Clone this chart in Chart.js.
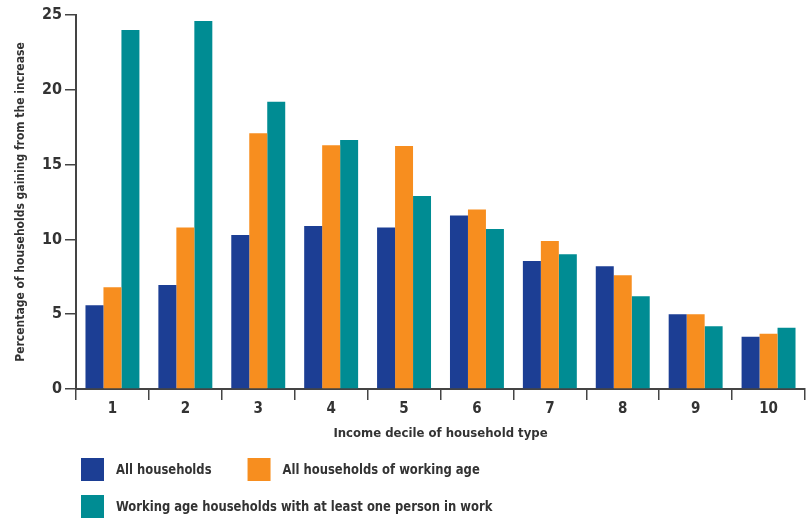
<!DOCTYPE html>
<html>
<head>
<meta charset="utf-8">
<script src="https://cdn.jsdelivr.net/npm/chart.js@4"></script>
<style>
  html, body {margin: 0; padding: 0; background: #fff;}
  #wrap {width: 806px; height: 519px;}
</style>
</head>
<body>
<div id="wrap"><canvas id="chart" width="806" height="519"></canvas></div>
<script>
// Data
const deciles = ["1", "2", "3", "4", "5", "6", "7", "8", "9", "10"];
const allHouseholds = [5.6, 6.95, 10.3, 10.9, 10.8, 11.6, 8.55, 8.2, 5.0, 3.5];
const workingAge = [6.8, 10.8, 17.1, 16.3, 16.25, 12.0, 9.9, 7.6, 5.0, 3.7];
const inWork = [24.0, 24.6, 19.2, 16.65, 12.9, 10.7, 9.0, 6.2, 4.2, 4.1];
const seriesNames = [
  "All households",
  "All households of working age",
  "Working age households with at least one person in work"
];
const yTicks = [0, 5, 10, 15, 20, 25];

const FONT = "'Liberation Sans Narrow', 'DejaVu Sans Condensed', 'Roboto Condensed', 'Liberation Sans', sans-serif";
const TEXT = "#333333";

// Legend drawn under the chart: two items on the first row, one on the second.
const legendRows = [[0, 1], [2]];
const bottomLegend = {
  id: "bottomLegend",
  afterDraw(chart) {
    const ctx = chart.ctx;
    const sets = chart.data.datasets;
    const squeeze = 0.92;
    ctx.save();
    ctx.font = "bold 14px " + FONT;
    ctx.textBaseline = "middle";
    legendRows.forEach((row, r) => {
      const cy = 469.5 + r * 37;
      let x = 81;
      row.forEach(i => {
        ctx.fillStyle = sets[i].backgroundColor;
        ctx.fillRect(x, cy - 11.5, 23, 23);
        ctx.fillStyle = TEXT;
        ctx.save();
        ctx.translate(x + 35, cy + 1);
        ctx.scale(squeeze, 1);
        ctx.fillText(sets[i].label, 0, 0);
        ctx.restore();
        x += 35 + ctx.measureText(sets[i].label).width * squeeze + 36;
      });
    });
    ctx.restore();
  }
};

new Chart(document.getElementById("chart"), {
  type: "bar",
  data: {
    labels: deciles,
    datasets: [
      {label: seriesNames[0], data: allHouseholds, backgroundColor: "#1c3e94"},
      {label: seriesNames[1], data: workingAge, backgroundColor: "#f78e1f"},
      {label: seriesNames[2], data: inWork, backgroundColor: "#008c93"}
    ]
  },
  options: {
    responsive: false,
    animation: false,
    categoryPercentage: 0.74,
    barPercentage: 1.0,
    layout: {padding: {left: 0, top: 15, right: 1, bottom: 78}},
    plugins: {legend: {display: false}, tooltip: {enabled: false}},
    scales: {
      x: {
        afterFit: s => { s.height = 52; },
        border: {display: true, color: "#444", width: 2},
        grid: {drawOnChartArea: false, color: "#444", lineWidth: 1.5, tickLength: 11},
        ticks: {color: TEXT, padding: 0, font: {family: FONT, size: 15, weight: "bold"}},
        title: {
          display: true, text: "Income decile of household type", color: TEXT,
          padding: {top: 4, bottom: 0}, font: {family: FONT, size: 13, weight: "bold"}
        }
      },
      y: {
        min: 0, max: 25,
        afterFit: s => { s.width = 76; },
        afterBuildTicks: s => { s.ticks = yTicks.map(v => ({value: v})); },
        border: {display: true, color: "#444", width: 2},
        grid: {drawOnChartArea: false, color: "#444", lineWidth: 1.5, tickLength: 11},
        ticks: {color: TEXT, padding: 3, font: {family: FONT, size: 16, weight: "bold"}},
        title: {
          display: true, text: "Percentage of households gaining from the increase", color: TEXT,
          padding: {top: 14, bottom: 0}, font: {family: FONT, size: 12, weight: "bold"}
        }
      }
    }
  },
  plugins: [bottomLegend]
});
</script>
</body>
</html>
